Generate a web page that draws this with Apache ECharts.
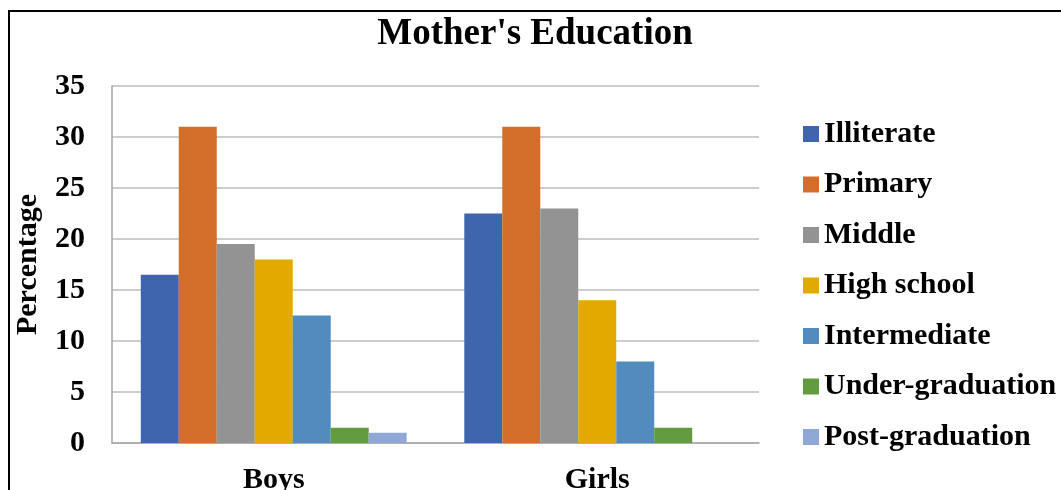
<!DOCTYPE html>
<html>
<head>
<meta charset="utf-8">
<script src="https://cdn.jsdelivr.net/npm/echarts@6/dist/echarts.min.js"></script>
<style>
  html, body { margin: 0; padding: 0; background: #fff; }
  #chart { width: 1061px; height: 490px; }
</style>
</head>
<body>
<div id="chart"></div>
<script>
// Mother's education level, percentage of boys and girls
const categories = ['Boys', 'Girls'];
const levels = ['Illiterate', 'Primary', 'Middle', 'High school', 'Intermediate', 'Under-graduation', 'Post-graduation'];
const illiterate = [16.5, 22.5];
const primary = [31, 31];
const middle = [19.5, 23];
const highSchool = [18, 14];
const intermediate = [12.5, 8];
const underGraduation = [1.5, 1.5];
const postGraduation = [1, 0];
const yTicks = [0, 5, 10, 15, 20, 25, 30, 35];

const seriesValues = [illiterate, primary, middle, highSchool, intermediate, underGraduation, postGraduation];
const colors = ['#3E65AE', '#D26E2A', '#939393', '#E2AA00', '#528BBE', '#629B40', '#91A7D6'];

const font = 'Liberation Serif, Times New Roman, serif';

const chart = echarts.init(document.getElementById('chart'));
chart.setOption({
  animation: false,
  backgroundColor: '#fff',
  title: {
    text: "Mother's Education",
    left: 530,
    textAlign: 'center',
    top: 11,
    textStyle: { fontFamily: font, fontWeight: 'bold', fontSize: 37, color: '#000' }
  },
  graphic: [{
    type: 'rect',
    shape: { x: 9, y: 11, width: 1200, height: 600 },
    style: { fill: 'none', stroke: '#000', lineWidth: 2 },
    silent: true
  }],
  legend: {
    orient: 'vertical',
    left: 803,
    top: 119,
    padding: 0,
    itemWidth: 16,
    itemHeight: 16,
    itemGap: 20.5,
    icon: 'rect',
    data: levels,
    textStyle: { fontFamily: font, fontWeight: 'bold', fontSize: 30, lineHeight: 30, color: '#000' }
  },
  grid: { left: 112, top: 86, right: 302, bottom: 47, containLabel: false, outerBoundsMode: 'none' },
  xAxis: {
    type: 'category',
    data: categories,
    axisLine: { lineStyle: { color: '#A6A6A6', width: 1.5 } },
    axisTick: { show: false },
    axisLabel: { margin: 22, fontFamily: font, fontWeight: 'bold', fontSize: 30, color: '#000' }
  },
  yAxis: {
    type: 'value',
    min: yTicks[0],
    max: yTicks[yTicks.length - 1],
    interval: yTicks[1] - yTicks[0],
    name: 'Percentage',
    nameLocation: 'middle',
    nameGap: 69,
    nameTextStyle: { fontFamily: font, fontWeight: 'bold', fontSize: 30, color: '#000' },
    axisLine: { show: true, lineStyle: { color: '#A6A6A6', width: 1.5 } },
    axisTick: { show: false },
    splitLine: { lineStyle: { color: '#BDBDBD', width: 1.5 } },
    axisLabel: { margin: 27, fontFamily: font, fontWeight: 'bold', fontSize: 30, color: '#000' }
  },
  series: levels.map((name, i) => ({
    name: name,
    type: 'bar',
    data: seriesValues[i],
    barGap: '0%',
    barCategoryGap: '17.8%',
    itemStyle: { color: colors[i] }
  }))
});
</script>
</body>
</html>
